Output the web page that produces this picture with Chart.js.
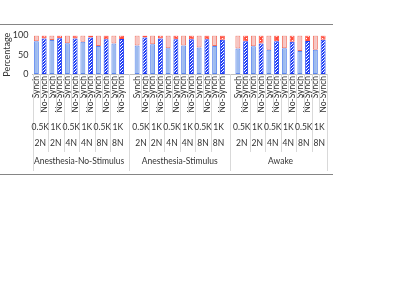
<!DOCTYPE html>
<html>
<head>
<meta charset="utf-8">
<script src="https://cdn.jsdelivr.net/npm/chart.js@4/dist/chart.umd.min.js"></script>
<style>
  html, body { margin: 0; padding: 0; background: #fff; }
  #wrap { width: 396px; height: 306px; }
</style>
</head>
<body>
<div id="wrap"><canvas id="chartCanvas" width="396" height="306"></canvas></div>
<script>
// data
const groups = ['Anesthesia-No-Stimulus', 'Anesthesia-Stimulus', 'Awake'];
const sizes = ['0.5K', '1K', '0.5K', '1K', '0.5K', '1K'];
const nodes = ['2N', '2N', '4N', '4N', '8N', '8N'];
const synchValues = [85, 88, 80, 84, 73, 79, 74, 77, 67, 74, 69, 73, 66, 72, 63, 67, 60, 63];
const noSynchValues = [92, 93, 92, 95, 90, 91, 95, 92, 90, 90, 90, 89, 85, 79, 85, 84, 86, 89];
const yTicks = [0, 25, 50, 75, 100];

const FONT = 'Lato';

// build slots: each group has 6 pairs (Synch, No-Synch), an empty slot between groups
const labels = [];
const kinds = [];
const slotIndex = []; // index into value arrays
groups.forEach((g, gi) => {
    if (gi > 0) { labels.push(''); kinds.push(null); slotIndex.push(null); }
    for (let p = 0; p < sizes.length; p++) {
        const k = gi * sizes.length + p;
        labels.push('Synch'); kinds.push('S'); slotIndex.push(k);
        labels.push('No-Synch'); kinds.push('N'); slotIndex.push(k);
    }
});

const synchBottom = kinds.map((k, i) => k === 'S' ? synchValues[slotIndex[i]] : null);
const synchTop = kinds.map((k, i) => k === 'S' ? 100 - synchValues[slotIndex[i]] : null);
const noSynchBottom = kinds.map((k, i) => k === 'N' ? noSynchValues[slotIndex[i]] : null);
const noSynchTop = kinds.map((k, i) => k === 'N' ? 100 - noSynchValues[slotIndex[i]] : null);

// fill patterns
function stripePattern() {
    const c = document.createElement('canvas');
    c.width = 3; c.height = 3;
    const g = c.getContext('2d');
    g.fillStyle = '#1d3cf5';
    g.fillRect(0, 0, 3, 3);
    g.fillStyle = '#ffffff';
    for (let y = 0; y < 3; y++) g.fillRect(2 - y, y, 1, 1);
    return g.createPattern(c, 'repeat');
}
function dotPattern() {
    const c = document.createElement('canvas');
    c.width = 4; c.height = 4;
    const g = c.getContext('2d');
    g.fillStyle = '#ff4d3d';
    g.fillRect(0, 0, 4, 4);
    g.fillStyle = '#ffffff';
    g.fillRect(0, 0, 1, 1);
    g.fillRect(2, 2, 1, 1);
    return g.createPattern(c, 'repeat');
}

const levelsPlugin = {
    id: 'levels',
    afterDraw(chart) {
        const ctx = chart.ctx;
        const xs = chart.scales.x;
        const y0 = chart.chartArea.bottom;
        const slotW = xs.width / labels.length;
        const leftOf = i => xs.getPixelForValue(i) - slotW / 2;
        ctx.save();

        // frame lines
        ctx.strokeStyle = '#858585';
        ctx.lineWidth = 1;
        ctx.beginPath();
        ctx.moveTo(0, 24.5); ctx.lineTo(333, 24.5);
        ctx.moveTo(0, 174.5); ctx.lineTo(333, 174.5);
        ctx.stroke();

        ctx.strokeStyle = '#d9d9d9';
        ctx.beginPath();
        let start = 0;
        groups.forEach((g, gi) => {
            const first = start + (gi > 0 ? 1 : 0);
            const n = sizes.length * 2;
            // level 1 and pair lines
            for (let j = 1; j < n; j++) {
                const x = Math.round(leftOf(first + j)) + 0.5;
                ctx.moveTo(x, y0);
                ctx.lineTo(x, j % 2 === 0 ? 152 : 113);
            }
            // group edge lines
            const gl = gi === 0 ? leftOf(first) : xs.getPixelForValue(first - 1);
            const xl = Math.round(gl) + 0.5;
            ctx.moveTo(xl, y0); ctx.lineTo(xl, 171);
            start = first + n;
        });
        const xr = Math.round(leftOf(labels.length)) + 0.5;
        ctx.moveTo(xr, y0); ctx.lineTo(xr, 171);
        ctx.stroke();

        // level 2, 3, 4 texts
        ctx.fillStyle = '#333333';
        ctx.font = '8.5px ' + FONT;
        ctx.textAlign = 'center';
        ctx.textBaseline = 'middle';
        start = 0;
        groups.forEach((g, gi) => {
            const first = start + (gi > 0 ? 1 : 0);
            for (let p = 0; p < sizes.length; p++) {
                const cx = (xs.getPixelForValue(first + 2 * p) + xs.getPixelForValue(first + 2 * p + 1)) / 2;
                ctx.fillText(sizes[p], cx, 127);
                ctx.fillText(nodes[p], cx, 143);
            }
            const last = first + sizes.length * 2 - 1;
            const gx = (xs.getPixelForValue(first) + xs.getPixelForValue(last)) / 2;
            ctx.fillText(g, gx, 161);
            start = last + 1;
        });
        ctx.restore();
    }
};

const barCommon = { borderWidth: 1, borderSkipped: false, categoryPercentage: 1, barPercentage: 0.64 };

const ctx = document.getElementById('chartCanvas').getContext('2d');
window.myChart = new Chart(ctx, {
    type: 'bar',
    data: {
        labels: labels,
        datasets: [
            Object.assign({ label: 'Synch', data: synchBottom, backgroundColor: '#9dbbee', borderColor: '#5b86f0' }, barCommon),
            Object.assign({ label: 'Synch rest', data: synchTop, backgroundColor: '#f6c5c2', borderColor: '#f2705f' }, barCommon),
            Object.assign({ label: 'No-Synch', data: noSynchBottom, backgroundColor: stripePattern(), borderColor: '#1d3cf5' }, barCommon),
            Object.assign({ label: 'No-Synch rest', data: noSynchTop, backgroundColor: dotPattern(), borderColor: '#ff4d3d' }, barCommon)
        ]
    },
    options: {
        responsive: false,
        animation: false,
        layout: { padding: { left: 0, right: 69, top: 35.5, bottom: 0 } },
        plugins: { legend: { display: false }, tooltip: { enabled: false } },
        scales: {
            x: {
                stacked: true,
                grid: { display: false, drawTicks: false },
                border: { display: true, color: '#bfbfbf' },
                ticks: {
                    autoSkip: false, maxRotation: 90, minRotation: 90, padding: 2,
                    color: '#333333', font: { family: FONT, size: 8.5 }
                },
                afterFit: s => { s.height = 306 - 74; }
            },
            y: {
                stacked: true,
                min: 0, max: 100,
                afterBuildTicks: s => { s.ticks = yTicks.map(v => ({ value: v })); },
                grid: { display: false, drawTicks: false },
                border: { display: false },
                ticks: { padding: 4, color: '#333333', font: { family: FONT, size: 9 } },
                title: {
                    display: true, text: 'Percentage', color: '#333333',
                    font: { family: FONT, size: 9 }, padding: { top: 2, bottom: 0 }
                },
                afterFit: s => { s.width = 32.5; }
            }
        }
    },
    plugins: [levelsPlugin]
});
</script>
</body>
</html>
